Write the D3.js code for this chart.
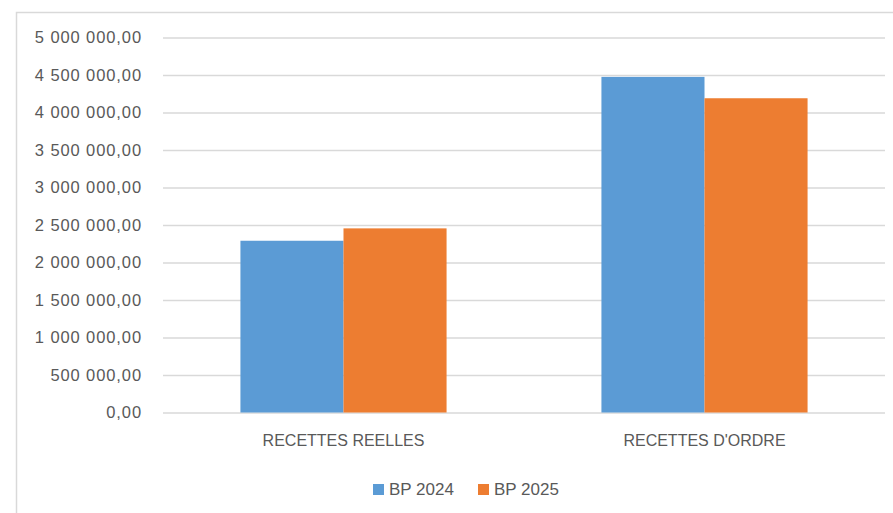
<!DOCTYPE html>
<html>
<head>
<meta charset="utf-8">
<script src="https://cdn.jsdelivr.net/npm/d3@7"></script>
<style>
  html, body { margin: 0; padding: 0; background: #ffffff; }
  svg { display: block; }
  text { font-family: "Liberation Sans", Arial, sans-serif; fill: #595959; }
</style>
</head>
<body>
<svg id="chart" width="893" height="513"></svg>
<script>
// Budget receipts by type, BP 2024 vs BP 2025
const categories = ["RECETTES REELLES", "RECETTES D'ORDRE"];
const seriesNames = ["BP 2024", "BP 2025"];
const bp2024 = [2290000, 4475000];
const bp2025 = [2455000, 4190000];
const yTicks = [0, 500000, 1000000, 1500000, 2000000, 2500000, 3000000, 3500000, 4000000, 4500000, 5000000];
const colors = ["#5b9bd5", "#ed7d31"];

const svg = d3.select("#chart");
const plot = { left: 163, right: 885, top: 37.5, bottom: 412.5 };

// outer chart frame (only top/left edges fall inside the view)
svg.append("rect")
  .attr("x", 16.5).attr("y", 12.5)
  .attr("width", 1000).attr("height", 1000)
  .attr("fill", "none").attr("stroke", "#d9d9d9").attr("stroke-width", 1.5);

const y = d3.scaleLinear().domain([0, 5000000]).range([plot.bottom, plot.top]);
const x0 = d3.scaleBand().domain(categories).range([plot.left, plot.right])
  .paddingInner(0.429).paddingOuter(0.2145);
const x1 = d3.scaleBand().domain(seriesNames).range([0, x0.bandwidth()]);

// number format: space as thousands separator, comma decimal
const fr = d3.formatLocale({ decimal: ",", thousands: "\u00a0", grouping: [3], currency: ["", " €"] });
const fmt = fr.format(",.2f");

// gridlines + y labels via axis
const yAxis = d3.axisLeft(y).tickValues(yTicks).tickFormat(fmt)
  .tickSize(-(plot.right - plot.left)).tickPadding(21);
const gy = svg.append("g").attr("transform", `translate(${plot.left},0)`).call(yAxis);
gy.select(".domain").remove();
gy.selectAll(".tick line").attr("stroke", "#d9d9d9").attr("stroke-width", 1.5);
gy.selectAll(".tick text").attr("fill", "#595959").style("font-size", "16.5px")
  .style("letter-spacing", "0.9px")
  .style("font-family", "\"Liberation Sans\", Arial, sans-serif");

// bars
const rows = categories.map((c, i) => ({ cat: c, vals: [bp2024[i], bp2025[i]] }));
const groups = svg.append("g").selectAll("g").data(rows).join("g")
  .attr("transform", d => `translate(${x0(d.cat)},0)`);
groups.selectAll("rect").data(d => d.vals.map((v, j) => ({ name: seriesNames[j], v, j })))
  .join("rect")
  .attr("x", d => x1(d.name))
  .attr("width", x1.bandwidth())
  .attr("y", d => y(d.v))
  .attr("height", d => y(0) - y(d.v))
  .attr("fill", d => colors[d.j]);

// category axis labels
const xAxis = d3.axisBottom(x0).tickSize(0).tickPadding(22);
const gx = svg.append("g").attr("transform", `translate(0,${plot.bottom})`).call(xAxis);
gx.select(".domain").remove();
gx.selectAll(".tick text").attr("fill", "#595959").style("font-size", "16px")
  .style("font-family", "\"Liberation Sans\", Arial, sans-serif");

// legend
const legend = svg.append("g");
const legendX = [373, 478];
seriesNames.forEach((n, i) => {
  legend.append("rect").attr("x", legendX[i]).attr("y", 484).attr("width", 11).attr("height", 11)
    .attr("fill", colors[i]);
  legend.append("text").attr("x", legendX[i] + 16).attr("y", 495)
    .style("font-size", "17px").text(n);
});
</script>
</body>
</html>
